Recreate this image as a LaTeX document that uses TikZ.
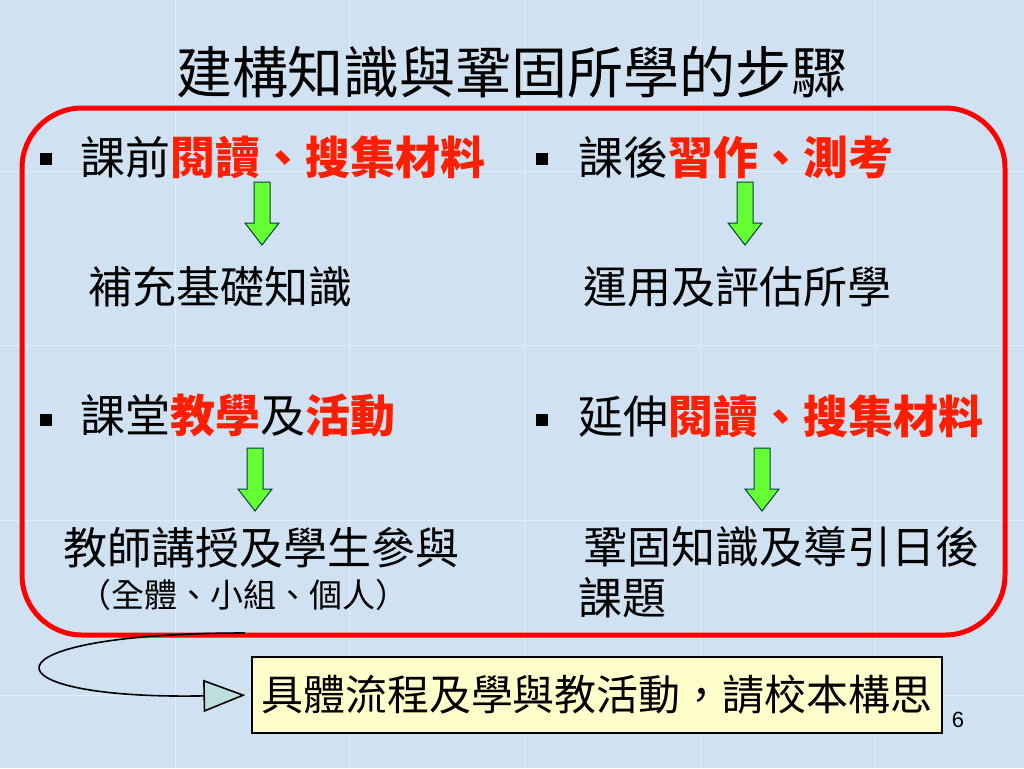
\documentclass[tikz,border=0pt]{standalone}
\usepackage{fontspec}
\newfontfamily\cjk{Noto Sans CJK TC}
\newfontfamily\arialfont{Liberation Sans}
\usetikzlibrary{arrows.meta, positioning}

\definecolor{slidebg}{RGB}{208,226,242}
\definecolor{keyred}{RGB}{255,30,0}
\definecolor{arrowgreen}{RGB}{102,255,51}
\definecolor{noteyellow}{RGB}{255,255,204}
\definecolor{tipfill}{RGB}{190,222,222}
\newcommand{\hl}[1]{\textcolor{keyred}{\bfseries #1}}

\begin{document}
\begin{tikzpicture}[
    x=0.5pt,
    y=-0.5pt,
    bullet/.style={
        rectangle,
        fill=black,
        minimum size=6pt,
        inner sep=0pt
    },
    point/.style={
        anchor=west,
        inner sep=0pt,
        font=\cjk\fontsize{22.5}{27}\selectfont
    },
    result/.style={
        anchor=west,
        inner sep=0pt,
        align=left,
        font=\cjk\fontsize{22}{26}\selectfont
    },
    downarrow/.pic={
        \filldraw[fill=arrowgreen, draw=teal!50!black, line width=0.5pt]
            (-8,0) -- (8,0) -- (8,41) -- (17,41) -- (0,63) -- (-17,41) -- (-8,41) -- cycle;
    },
    tileline/.style={
        white,
        opacity=0.4,
        line width=0.5pt
    },
    loop/.style={
        -{Triangle[length=21pt, width=16pt, fill=tipfill]},
        line width=0.8pt,
        shorten >=3pt
    }
]

% Slide background
\fill[slidebg] (0,0) rectangle (1024,768);
\useasboundingbox (0,0) rectangle (1024,768);
\foreach \gx in {175,349,524,700,875}
    \draw[tileline] (\gx,0) -- (\gx,768);
\foreach \gy in {171,345,520,695}
    \draw[tileline] (0,\gy) -- (1024,\gy);

% Title
\node[font=\cjk\fontsize{28}{32}\selectfont] (title) at (512,72) {建構知識與鞏固所學的步驟};

% Red frame
\node[draw=red, line width=2.5pt, rounded corners=30pt, minimum width=491.5pt, minimum height=263.5pt] (frame) at (513.5,371.5) {};

% Before class
\node[bullet] (b1) at (46,159) {};
\node[point] (p1) at (80,157) {課前\hl{閱讀、搜集材料}};
\pic at (262,182) {downarrow};
\node[result] (r1) at (88,287) {補充基礎知識};

% After class
\node[bullet] (b2) at (542,159) {};
\node[point] (p2) at (578,157) {課後\hl{習作、測考}};
\pic at (745,182) {downarrow};
\node[result] (r2) at (583,287) {運用及評估所學};

% In class
\node[bullet] (b3) at (46,420) {};
\node[point] (p3) at (80,416) {課堂\hl{教學}及\hl{活動}};
\pic at (255,448) {downarrow};
\node[result] (r3) at (63,548) {教師講授及學生參與};
\node[result, font=\cjk\fontsize{16.5}{19}\selectfont] (r3b) at (78,595) {（全體、小組、個人）};

% Extension
\node[bullet] (b4) at (542,420) {};
\node[point] (p4) at (578,416) {延伸\hl{閱讀、搜集材料}};
\pic at (762,448) {downarrow};
\node[result, anchor=north west] (r4) at (583,526) {鞏固知識及導引日後\\[-0.5pt]\hspace*{-2.5pt}課題};

% School-based note
\node[draw, fill=noteyellow, line width=0.6pt, minimum width=345pt, minimum height=38pt, inner sep=0pt,
      font=\cjk\fontsize{21}{25}\selectfont] (plan) at (597,695) {具體流程及學與教活動，請校本構思};
\coordinate (turn) at (245,633);
\draw[loop] (turn) .. controls (-25,633) and (-20,700) .. (plan.west);

% Page number
\node[font=\arialfont\fontsize{11}{13}\selectfont] (page) at (958,720) {6};

\end{tikzpicture}
\end{document}
